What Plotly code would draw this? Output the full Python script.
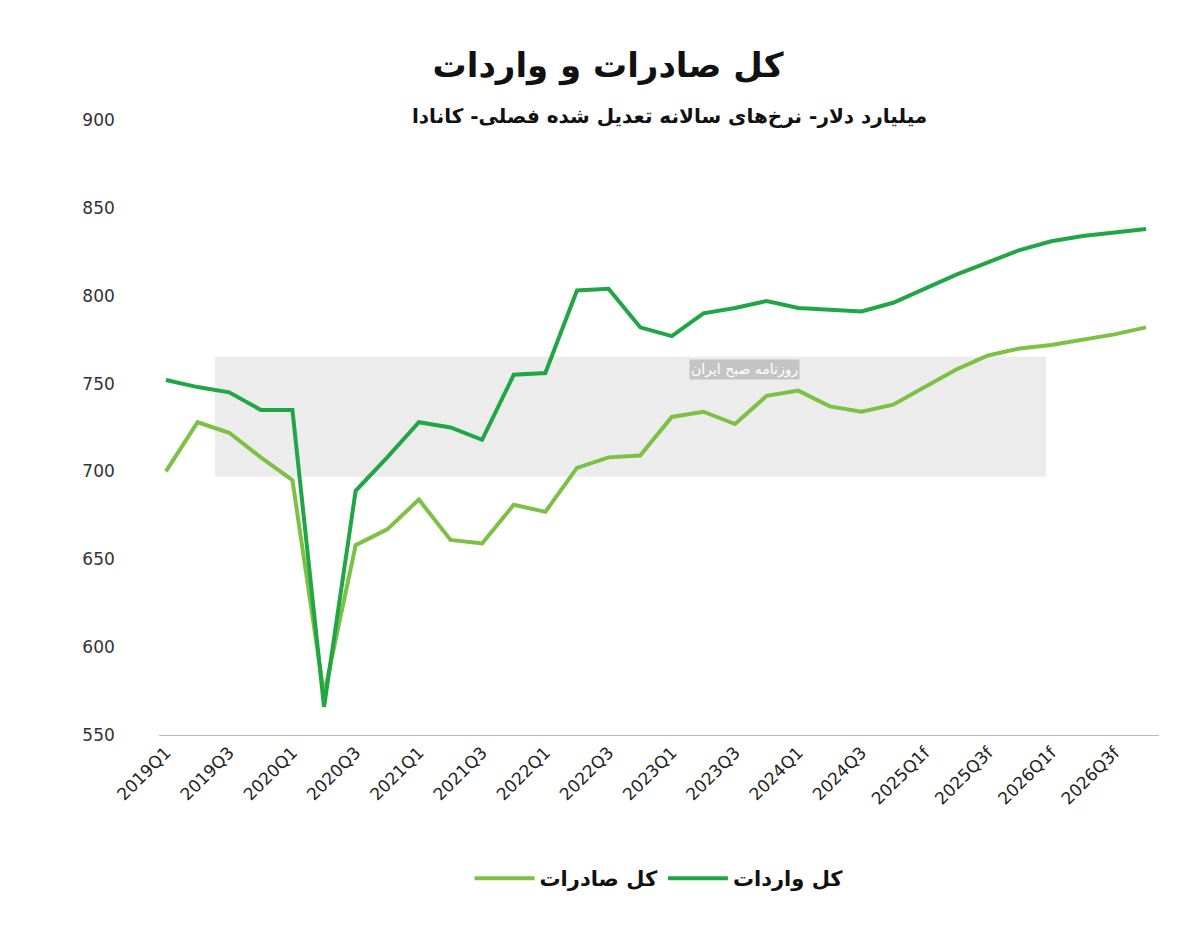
import plotly.graph_objects as go

quarters = []
for yr in range(2019, 2027):
    for q in range(1, 5):
        quarters.append(f"{yr}Q{q}" + ("f" if yr >= 2025 else ""))

imports = [752, 748, 745, 735, 735, 566, 689, 708, 728, 725, 718, 755, 756, 803, 804, 782,
           777, 790, 793, 797, 793, 792, 791, 796, 804, 812, 819, 826, 831, 834, 836, 838]
exports = [700, 728, 722, 708, 695, 573, 658, 667, 684, 661, 659, 681, 677, 702, 708, 709,
           731, 734, 727, 743, 746, 737, 734, 738, 748, 758, 766, 770, 772, 775, 778, 782]

font = "DejaVu Sans"

fig = go.Figure()
fig.add_trace(go.Scatter(x=quarters, y=exports, mode="lines", name="<b>کل صادرات</b>",
                         line=dict(color="#7dc144", width=4)))
fig.add_trace(go.Scatter(x=quarters, y=imports, mode="lines", name="<b>کل واردات</b>",
                         line=dict(color="#21a645", width=4)))

# watermark band
fig.add_shape(type="rect", xref="paper", yref="paper", x0=0.056, x1=0.887, y0=0.42, y1=0.615,
              fillcolor="rgba(200,200,200,0.35)", line_width=0, layer="below")
fig.add_annotation(text="روزنامه صبح ایران", xref="paper", yref="paper", x=0.585, y=0.595,
                   showarrow=False, font=dict(family=font, size=14, color="white"),
                   bgcolor="rgba(170,170,170,0.6)")

fig.update_layout(
    width=1200, height=933,
    paper_bgcolor="white", plot_bgcolor="white",
    margin=dict(l=151, r=49, t=112, b=206),
    title=dict(text="<b>کل صادرات و واردات</b>", x=0.5, y=0.952, xanchor="center",
               font=dict(family=font, size=34, color="#111")),
    font=dict(family=font, color="#222"),
    showlegend=True,
    legend=dict(orientation="h", x=0.5, xanchor="center", y=-0.2, yanchor="top",
                font=dict(family=font, size=21, color="#111"), traceorder="normal",
                itemwidth=60),
    xaxis=dict(tickmode="array", tickvals=quarters[::2], tickangle=-45,
               tickfont=dict(family=font, size=17, color="#222"),
               showgrid=False, showline=True, linecolor="#bbb", linewidth=1,
               range=[-0.22, 31.41]),
    yaxis=dict(range=[550, 900], dtick=50, showgrid=False, zeroline=False,
               tickfont=dict(family=font, size=17, color="#333"), ticksuffix="        "),
)
fig.add_annotation(text="<b>میلیارد دلار- نرخ‌های سالانه تعدیل شده فصلی- کانادا</b>",
                   xref="paper", yref="paper", x=0.77, y=1.03, xanchor="right",
                   showarrow=False, font=dict(family=font, size=20, color="#111"))

fig.write_html("out.html")
